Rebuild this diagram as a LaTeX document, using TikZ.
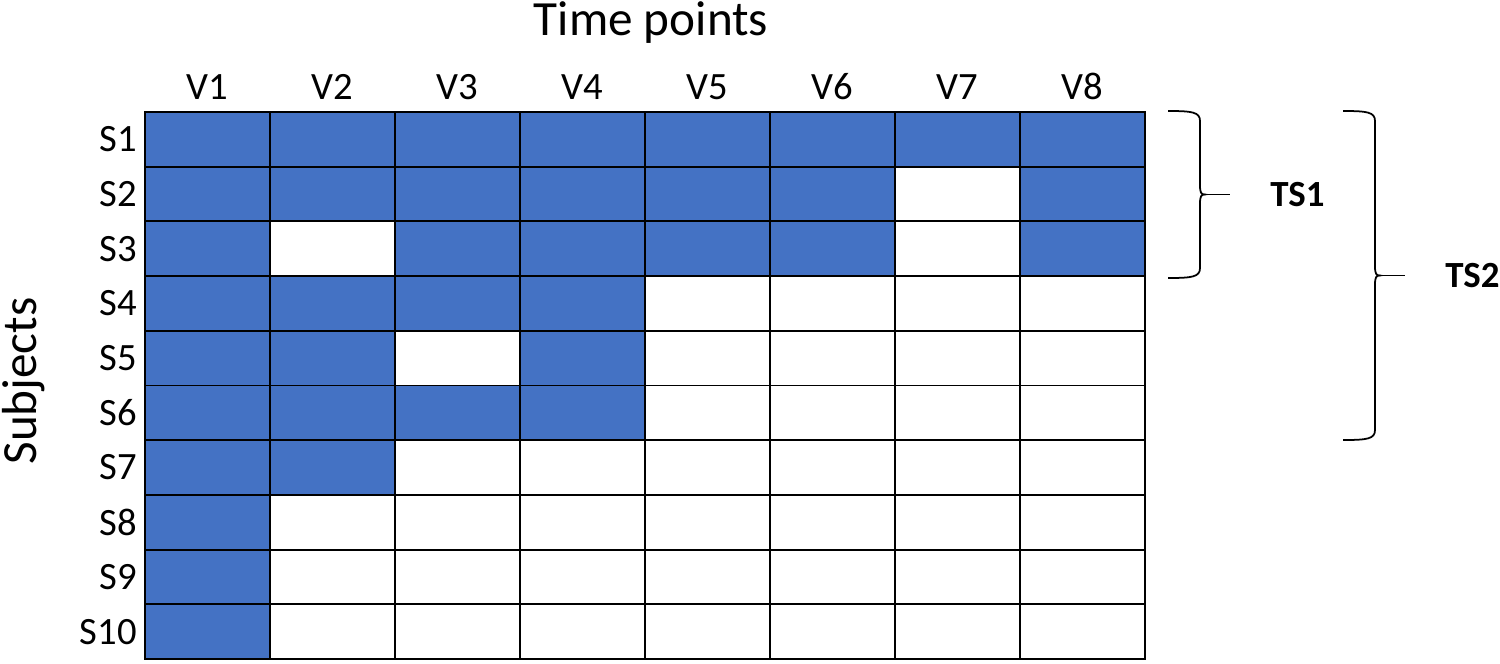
\documentclass[tikz,border=0pt]{standalone}
\usepackage{fontspec}
\setmainfont{Carlito}
\usetikzlibrary{positioning, backgrounds}
\definecolor{cellblue}{HTML}{4472C4}

\begin{document}
\begin{tikzpicture}[
    x=0.02cm, y=-0.02cm,
    cell/.style={rectangle, draw, line width=1.1pt, minimum width=2.5cm, minimum height=1.094cm, inner sep=0pt, outer sep=0pt},
    lab/.style={inner sep=0pt, font=\fontsize{22}{26}\selectfont},
    axislab/.style={inner sep=0pt, font=\fontsize{28}{34}\selectfont},
    tslab/.style={inner sep=0pt, font=\fontsize{21}{25}\selectfont\bfseries},
    tsbrace/.style={draw, line width=1pt}
]
\useasboundingbox (0,0) rectangle (1500,663);

% Zellen des Rasters
\foreach \r in {1,...,10}
  \foreach \c in {1,...,8}
    \node[cell] (c-\r-\c) at ({145+125*(\c-0.5)}, {112+54.7*(\r-0.5)}) {};

% belegte Zellen
\begin{scope}[on background layer]
\foreach \r/\cols in {1/{1,2,3,4,5,6,7,8}, 2/{1,2,3,4,5,6,8}, 3/{1,3,4,5,6,8}, 4/{1,2,3,4}, 5/{1,2,4}, 6/{1,2,3,4}, 7/{1,2}, 8/{1}, 9/{1}, 10/{1}}
  \foreach \c in \cols
    \fill[cellblue] (c-\r-\c.north west) rectangle (c-\r-\c.south east);
\end{scope}

% Beschriftungen
\foreach \c in {1,...,8}
  \node[lab, above=6.8pt of c-1-\c] (v\c) {V\c};
\foreach \r in {1,...,10}
  \node[lab, left=4.5pt of c-\r-1] (s\r) {S\r};

\node[axislab, anchor=base] (time) at (651,35) {Time points};
\node[axislab, anchor=base, rotate=90] (subj) at (36,381) {Subjects};

% Klammern
\foreach \xe/\yt/\yb/\lab in {1168/111/278/TS1, 1343/111/440/TS2} {
  \pgfmathsetmacro\ym{(\yt+\yb)/2}
  \draw[tsbrace] (\xe,\yt) .. controls (\xe+24,\yt) and (\xe+32,\yt+1) .. (\xe+32,\yt+10)
    -- (\xe+32,\ym-9) .. controls (\xe+32,\ym-2) and (\xe+33,\ym) .. (\xe+37,\ym)
    .. controls (\xe+33,\ym) and (\xe+32,\ym+2) .. (\xe+32,\ym+9)
    -- (\xe+32,\yb-10) .. controls (\xe+32,\yb-1) and (\xe+24,\yb) .. (\xe,\yb);
  \draw[tsbrace] (\xe+37,\ym) -- (\xe+62,\ym);
  \node[tslab, anchor=west] (\lab) at (\xe+102,\ym) {\lab};
}

\end{tikzpicture}
\end{document}
